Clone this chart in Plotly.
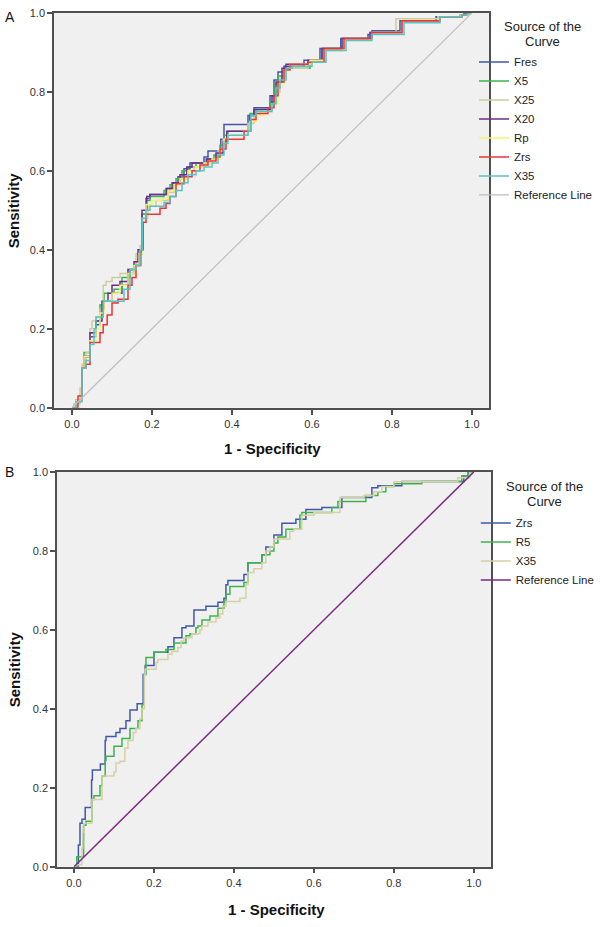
import plotly.graph_objects as go

# ROC points (1 - specificity, sensitivity)
# Panel A
a_fres = [(0, 0), (0.012, 0.02), (0.025, 0.1), (0.03, 0.13), (0.045, 0.18), (0.06, 0.21), (0.07, 0.25),
          (0.08, 0.27), (0.1, 0.29), (0.125, 0.31), (0.14, 0.34), (0.155, 0.36), (0.168, 0.39), (0.175, 0.49),
          (0.185, 0.53), (0.195, 0.54), (0.235, 0.555), (0.25, 0.57), (0.265, 0.585), (0.28, 0.605),
          (0.295, 0.62), (0.33, 0.635), (0.34, 0.65), (0.372, 0.68), (0.38, 0.717), (0.44, 0.74),
          (0.455, 0.76), (0.495, 0.79), (0.505, 0.83), (0.515, 0.85), (0.53, 0.865), (0.58, 0.88),
          (0.62, 0.91), (0.672, 0.935), (0.74, 0.945), (0.75, 0.955), (0.82, 0.98), (0.91, 0.99),
          (0.97, 0.995), (0.98, 1.0), (1.0, 1.0)]
a_x5 = [(0, 0), (0.01, 0.02), (0.025, 0.1), (0.03, 0.14), (0.045, 0.19), (0.06, 0.22), (0.07, 0.26),
        (0.08, 0.29), (0.105, 0.3), (0.125, 0.33), (0.145, 0.35), (0.16, 0.37), (0.17, 0.4), (0.175, 0.49),
        (0.185, 0.525), (0.195, 0.535), (0.23, 0.55), (0.245, 0.565), (0.26, 0.58), (0.275, 0.6),
        (0.29, 0.61), (0.31, 0.62), (0.335, 0.63), (0.355, 0.64), (0.37, 0.665), (0.38, 0.69), (0.39, 0.7),
        (0.44, 0.72), (0.445, 0.745), (0.46, 0.755), (0.495, 0.775), (0.505, 0.82), (0.515, 0.84),
        (0.53, 0.86), (0.595, 0.88), (0.625, 0.91), (0.675, 0.935), (0.745, 0.95), (0.825, 0.98),
        (0.92, 0.99), (0.975, 0.995), (0.985, 1.0), (1.0, 1.0)]
a_x25 = [(0, 0), (0.005, 0.01), (0.02, 0.05), (0.025, 0.11), (0.035, 0.14), (0.045, 0.2), (0.05, 0.22),
         (0.06, 0.23), (0.07, 0.25), (0.078, 0.31), (0.085, 0.32), (0.1, 0.33), (0.12, 0.34), (0.14, 0.35),
         (0.16, 0.39), (0.17, 0.41), (0.176, 0.48), (0.19, 0.51), (0.21, 0.525), (0.24, 0.545),
         (0.255, 0.565), (0.27, 0.58), (0.29, 0.6), (0.305, 0.61), (0.33, 0.62), (0.35, 0.63),
         (0.365, 0.65), (0.378, 0.68), (0.39, 0.69), (0.44, 0.72), (0.455, 0.74), (0.47, 0.75), (0.5, 0.77),
         (0.51, 0.8), (0.52, 0.835), (0.535, 0.86), (0.59, 0.875), (0.63, 0.905), (0.675, 0.935),
         (0.745, 0.95), (0.81, 0.985), (0.915, 0.99), (0.97, 0.995), (0.99, 1.0), (1.0, 1.0)]
a_x20 = [(0, 0), (0.01, 0.02), (0.025, 0.1), (0.03, 0.13), (0.045, 0.19), (0.06, 0.22), (0.075, 0.27),
         (0.09, 0.29), (0.1, 0.31), (0.12, 0.32), (0.14, 0.35), (0.155, 0.37), (0.165, 0.4), (0.175, 0.5),
         (0.187, 0.535), (0.195, 0.54), (0.237, 0.555), (0.253, 0.57), (0.27, 0.59), (0.287, 0.61),
         (0.3, 0.62), (0.337, 0.63), (0.36, 0.645), (0.378, 0.675), (0.387, 0.7), (0.445, 0.74),
         (0.455, 0.755), (0.5, 0.79), (0.51, 0.825), (0.525, 0.86), (0.535, 0.87), (0.59, 0.88),
         (0.625, 0.91), (0.675, 0.935), (0.745, 0.95), (0.825, 0.98), (0.92, 0.99), (0.975, 0.995),
         (0.985, 1.0), (1.0, 1.0)]
a_rp = [(0, 0), (0.01, 0.02), (0.025, 0.1), (0.03, 0.13), (0.045, 0.17), (0.06, 0.2), (0.07, 0.24),
        (0.08, 0.27), (0.1, 0.29), (0.12, 0.31), (0.14, 0.34), (0.155, 0.36), (0.168, 0.39), (0.176, 0.48),
        (0.185, 0.515), (0.2, 0.525), (0.225, 0.53), (0.24, 0.55), (0.255, 0.565), (0.27, 0.58),
        (0.29, 0.6), (0.31, 0.61), (0.33, 0.62), (0.35, 0.63), (0.37, 0.655), (0.38, 0.68), (0.39, 0.69),
        (0.43, 0.7), (0.445, 0.725), (0.46, 0.74), (0.48, 0.75), (0.5, 0.77), (0.515, 0.82), (0.53, 0.855),
        (0.545, 0.87), (0.595, 0.88), (0.63, 0.905), (0.68, 0.93), (0.75, 0.95), (0.825, 0.98),
        (0.92, 0.99), (0.975, 0.995), (0.985, 1.0), (1.0, 1.0)]
a_zrs = [(0, 0), (0.015, 0.03), (0.025, 0.1), (0.035, 0.11), (0.045, 0.165), (0.07, 0.19), (0.078, 0.21),
         (0.088, 0.235), (0.1, 0.265), (0.115, 0.275), (0.14, 0.31), (0.15, 0.33), (0.16, 0.36),
         (0.172, 0.4), (0.178, 0.47), (0.185, 0.49), (0.22, 0.505), (0.235, 0.517), (0.245, 0.535),
         (0.26, 0.567), (0.28, 0.585), (0.3, 0.6), (0.32, 0.615), (0.34, 0.625), (0.36, 0.635),
         (0.37, 0.655), (0.385, 0.68), (0.43, 0.7), (0.447, 0.73), (0.46, 0.745), (0.49, 0.76),
         (0.505, 0.79), (0.515, 0.825), (0.53, 0.855), (0.545, 0.87), (0.59, 0.875), (0.63, 0.91),
         (0.68, 0.935), (0.75, 0.95), (0.825, 0.98), (0.92, 0.99), (0.975, 0.995), (0.985, 1.0), (1.0, 1.0)]
a_x35 = [(0, 0), (0.01, 0.015), (0.025, 0.1), (0.035, 0.12), (0.045, 0.16), (0.055, 0.2), (0.06, 0.23),
         (0.078, 0.27), (0.13, 0.3), (0.145, 0.35), (0.16, 0.36), (0.17, 0.4), (0.176, 0.48), (0.185, 0.5),
         (0.195, 0.51), (0.23, 0.52), (0.245, 0.535), (0.26, 0.55), (0.275, 0.57), (0.29, 0.59),
         (0.31, 0.6), (0.33, 0.61), (0.35, 0.62), (0.365, 0.64), (0.38, 0.67), (0.39, 0.69), (0.44, 0.7),
         (0.447, 0.74), (0.46, 0.75), (0.5, 0.77), (0.51, 0.81), (0.52, 0.83), (0.535, 0.86), (0.55, 0.865),
         (0.6, 0.875), (0.635, 0.905), (0.685, 0.93), (0.75, 0.945), (0.83, 0.975), (0.92, 0.99),
         (0.975, 0.995), (0.99, 1.0), (1.0, 1.0)]

# Panel B
b_zrs = [(0, 0), (0.011, 0.055), (0.015, 0.11), (0.02, 0.12), (0.028, 0.15), (0.044, 0.22), (0.046, 0.245),
         (0.066, 0.26), (0.078, 0.32), (0.08, 0.33), (0.105, 0.34), (0.115, 0.35), (0.13, 0.37),
         (0.14, 0.397), (0.158, 0.413), (0.173, 0.487), (0.178, 0.51), (0.2, 0.543), (0.235, 0.557),
         (0.25, 0.58), (0.27, 0.605), (0.28, 0.61), (0.3, 0.65), (0.33, 0.66), (0.36, 0.67), (0.375, 0.68),
         (0.38, 0.714), (0.385, 0.725), (0.425, 0.74), (0.435, 0.77), (0.47, 0.79), (0.48, 0.81),
         (0.5, 0.84), (0.52, 0.87), (0.555, 0.88), (0.58, 0.905), (0.62, 0.91), (0.67, 0.935),
         (0.745, 0.96), (0.76, 0.965), (0.82, 0.976), (0.975, 0.99), (0.985, 1.0), (1.0, 1.0)]
b_r5 = [(0, 0), (0.007, 0.025), (0.024, 0.105), (0.03, 0.115), (0.045, 0.17), (0.05, 0.18), (0.065, 0.205),
        (0.07, 0.23), (0.078, 0.27), (0.08, 0.28), (0.1, 0.305), (0.12, 0.325), (0.14, 0.35), (0.16, 0.37),
        (0.17, 0.41), (0.175, 0.487), (0.18, 0.53), (0.2, 0.543), (0.23, 0.55), (0.25, 0.567),
        (0.28, 0.585), (0.29, 0.59), (0.305, 0.605), (0.31, 0.61), (0.32, 0.625), (0.34, 0.635),
        (0.36, 0.655), (0.375, 0.67), (0.38, 0.69), (0.39, 0.71), (0.425, 0.72), (0.435, 0.77),
        (0.47, 0.79), (0.49, 0.8), (0.5, 0.82), (0.51, 0.835), (0.53, 0.855), (0.565, 0.89), (0.57, 0.897),
        (0.645, 0.91), (0.66, 0.925), (0.73, 0.94), (0.76, 0.95), (0.78, 0.963), (0.8, 0.97),
        (0.87, 0.976), (0.97, 0.99), (0.985, 1.0), (1.0, 1.0)]
b_x35 = [(0, 0), (0.005, 0.005), (0.02, 0.047), (0.022, 0.088), (0.025, 0.11), (0.045, 0.17), (0.07, 0.23),
         (0.1, 0.24), (0.105, 0.263), (0.115, 0.267), (0.127, 0.3), (0.135, 0.32), (0.148, 0.34),
         (0.155, 0.35), (0.165, 0.375), (0.17, 0.4), (0.176, 0.487), (0.178, 0.5), (0.205, 0.517),
         (0.21, 0.525), (0.235, 0.538), (0.245, 0.545), (0.26, 0.555), (0.268, 0.572), (0.275, 0.58),
         (0.295, 0.59), (0.315, 0.6), (0.32, 0.61), (0.335, 0.62), (0.355, 0.63), (0.365, 0.64),
         (0.372, 0.66), (0.38, 0.672), (0.415, 0.68), (0.43, 0.715), (0.435, 0.745), (0.45, 0.755),
         (0.47, 0.77), (0.48, 0.8), (0.49, 0.81), (0.5, 0.83), (0.54, 0.85), (0.55, 0.855), (0.57, 0.89),
         (0.6, 0.897), (0.665, 0.935), (0.725, 0.94), (0.75, 0.95), (0.77, 0.963), (0.8, 0.975),
         (0.96, 0.985), (0.99, 1.0), (1.0, 1.0)]

reference = [(0, 0), (1, 1)]

ticks = [0.0, 0.2, 0.4, 0.6, 0.8, 1.0]

panel_a = [
    ("Fres", a_fres, "#4158A8"),
    ("X5", a_x5, "#3CB44B"),
    ("X25", a_x25, "#CFCB9C"),
    ("X20", a_x20, "#6E2C8C"),
    ("Rp", a_rp, "#F7F26E"),
    ("Zrs", a_zrs, "#EE3237"),
    ("X35", a_x35, "#56C4C7"),
]
panel_b = [
    ("Zrs", b_zrs, "#4158A8"),
    ("R5", b_r5, "#3CB44B"),
    ("X35", b_x35, "#D6D1A2"),
]

FONT = "Arial, Liberation Sans, sans-serif"

fig = go.Figure()


def add_curves(curves, xa, ya, legend):
    for name, pts, color in curves:
        fig.add_trace(go.Scatter(
            x=[p[0] for p in pts], y=[p[1] for p in pts],
            mode="lines", line=dict(color=color, width=1.5, shape="hv"),
            name=name, xaxis=xa, yaxis=ya, legend=legend,
        ))


add_curves(panel_a, "x", "y", "legend")
fig.add_trace(go.Scatter(
    x=[p[0] for p in reference], y=[p[1] for p in reference],
    mode="lines", line=dict(color="#BEBEBE", width=1.2),
    name="Reference Line", xaxis="x", yaxis="y", legend="legend",
))
add_curves(panel_b, "x2", "y2", "legend2")
fig.add_trace(go.Scatter(
    x=[p[0] for p in reference], y=[p[1] for p in reference],
    mode="lines", line=dict(color="#7C2A82", width=1.5),
    name="Reference Line", xaxis="x2", yaxis="y2", legend="legend2",
))

axis_style = dict(
    showgrid=False, zeroline=False, showline=True, mirror=True,
    linecolor="#505050", linewidth=1.5,
    ticks="outside", ticklen=5, tickwidth=1.5, tickcolor="#505050",
    tickvals=ticks, tickformat=".1f",
    tickfont=dict(family=FONT, size=11, color="#333333"),
)

legend_style = dict(
    font=dict(family=FONT, size=11.5, color="#222222"),
    bgcolor="rgba(0,0,0,0)", itemwidth=30, tracegroupgap=0,
    xanchor="left", yanchor="top",
)

fig.update_layout(
    width=600, height=927,
    margin=dict(l=0, r=0, t=0, b=0),
    paper_bgcolor="white", plot_bgcolor="#F0F0F0",
    xaxis=dict(domain=[0.09, 0.815], range=[-0.045, 1.0425], anchor="y", **axis_style),
    yaxis=dict(domain=[0.5609, 0.9925], range=[0, 1], anchor="x", **axis_style),
    xaxis2=dict(domain=[0.095, 0.818], range=[-0.0425, 1.0425], anchor="y2", **axis_style),
    yaxis2=dict(domain=[0.0593, 0.4908], range=[0, 1], anchor="x2", **axis_style),
    legend=dict(x=0.79, y=1 - 42 / 927, **legend_style),
    legend2=dict(x=0.793, y=1 - 509 / 927, **legend_style),
    showlegend=True,
)

title_font = dict(family=FONT, size=15, color="#111111")
label_font = dict(family=FONT, size=14, color="#111111")
legend_title_font = dict(family=FONT, size=13, color="#222222")
annotations = [
    dict(text="<b>1 - Specificity</b>", x=272, y=448, font=title_font),
    dict(text="<b>Sensitivity</b>", x=13, y=207, textangle=-90, font=title_font),
    dict(text="<b>1 - Specificity</b>", x=276, y=915, font=title_font),
    dict(text="<b>Sensitivity</b>", x=14, y=672, textangle=-90, font=title_font),
    dict(text="A", x=10, y=11, font=label_font),
    dict(text="B", x=9, y=472, font=label_font),
    dict(text="Source of the", x=542, y=21, font=legend_title_font),
    dict(text="Curve", x=542, y=36, font=legend_title_font),
    dict(text="Source of the", x=544, y=487, font=legend_title_font),
    dict(text="Curve", x=544, y=502, font=legend_title_font),
]
for a in annotations:
    # positions above are in screen pixels from the top-left corner
    fig.add_annotation(
        xref="paper", yref="paper", showarrow=False,
        xanchor="center", yanchor="middle",
        text=a["text"], x=a["x"] / 600, y=1 - a["y"] / 927,
        textangle=a.get("textangle", 0), font=a["font"],
    )

fig.write_html("out.html", config={"displayModeBar": False},
               post_script="document.body.style.margin = '0px';")
